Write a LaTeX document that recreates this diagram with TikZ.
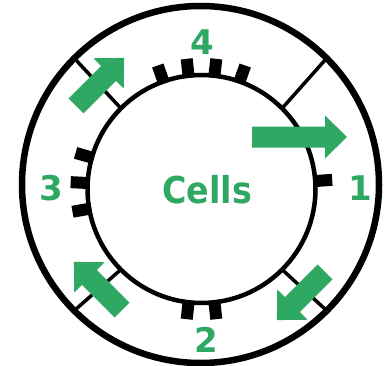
\documentclass[tikz,border=0pt]{standalone}
\usepackage{fontspec}
\usetikzlibrary{calc}
\newfontfamily\lblfont{DejaVu Sans}
\definecolor{cellgreen}{RGB}{46,168,98}
\tikzset{
  ring/.style={draw=black, line width=6.5pt},
  membrane/.style={draw=black, line width=4.5pt},
  divider/.style={draw=black, line width=3.5pt},
  toothbox/.style={fill=black},
  garrow/.style={fill=cellgreen},
  numlabel/.style={text=cellgreen, font=\lblfont\bfseries\fontsize{34}{34}\selectfont, inner sep=0pt},
  celllabel/.style={text=cellgreen, font=\lblfont\bfseries\fontsize{37}{37}\selectfont, inner sep=0pt},
}
\newcommand{\blockarrow}[4]{%
  \fill[garrow, shift={(#1,#2)}, rotate=#3] (0,-10.5) -- ({#4-22},-10.5) -- ({#4-22},-21.5) -- (#4,0) -- ({#4-22},21.5) -- ({#4-22},10.5) -- (0,10.5) -- cycle;}
\newcommand{\celltooth}[1]{%
  \fill[toothbox, shift={(201.5,176)}, rotate=#1] (112,-6) rectangle (131,6);}
\begin{document}
\begin{tikzpicture}[x=1pt,y=1pt]
  \useasboundingbox (0,0) rectangle (388,365);
  \coordinate (OC) at (200.5,180.5);
  \coordinate (IC) at (201.5,176);
  % rings
  \draw[ring] (OC) circle (178.5);
  \draw[membrane] (IC) circle (114);
  % dividers
  \foreach \a in {45,135,225,315}{
    \draw[divider] ($(IC)+(\a:113)$) -- ($(OC)+(\a:177)$);
  }
  % teeth
  \foreach \a in {70.5,83.5,96.5,109.5,164,177,190,263.5,276.5,4}{
    \celltooth{\a}
  }
  % arrows
  \blockarrow{252}{228}{0}{95}
  \blockarrow{76}{259}{45}{68}
  \blockarrow{122}{55}{135}{68}
  \blockarrow{325}{93}{225}{68}
  % labels
  \node[numlabel] (n4) at (202,323) {4};
  \node[numlabel] (n1) at (360,177) {1};
  \node[numlabel] (n2) at (206,25) {2};
  \node[numlabel] (n3) at (51,177) {3};
  \node[celllabel] (cells) at (207,175) {\scalebox{0.9}[1]{Cells}};
\end{tikzpicture}
\end{document}
